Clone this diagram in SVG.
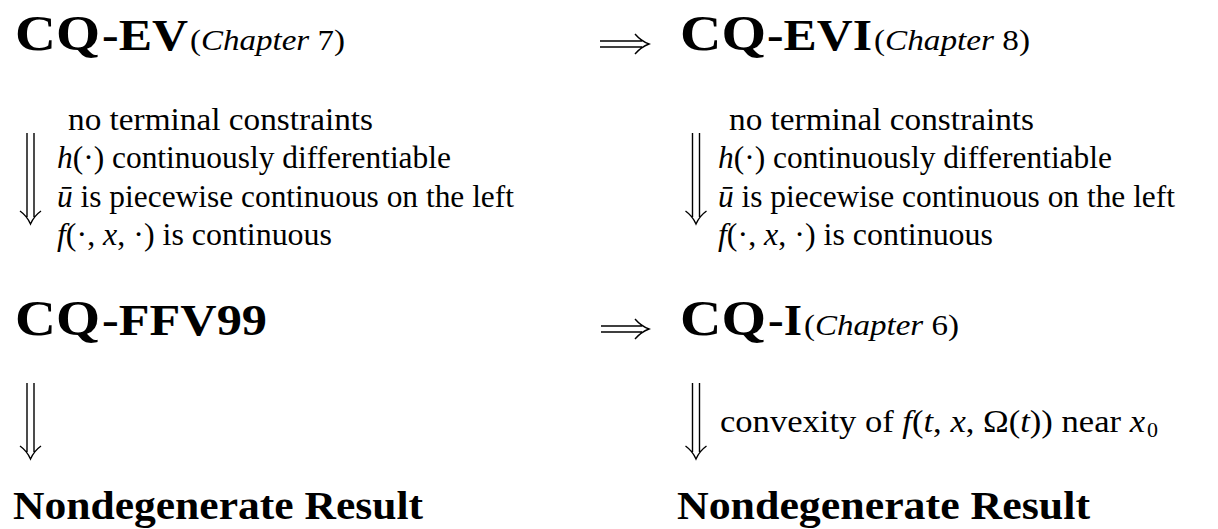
<svg xmlns="http://www.w3.org/2000/svg" width="1218" height="529" viewBox="0 0 1218 529">
<style>
text{font-family:"Liberation Serif","DejaVu Serif",serif;fill:#000}
.big{font-size:50px;font-weight:bold}
.mid{font-size:44px;font-weight:bold}
.ch{font-size:30px}
.it{font-style:italic}
.cond{font-size:31px}
.res{font-size:40px;font-weight:bold}
.arr{fill:none;stroke:#000;stroke-width:1.4}
</style>
<rect width="1218" height="529" fill="#fff"/>
<g id="cq-ev">
<text class="big" x="15" y="50" textLength="85" lengthAdjust="spacingAndGlyphs">CQ</text>
<text class="mid" x="102" y="50" textLength="86" lengthAdjust="spacingAndGlyphs">-EV</text>
<text class="ch" x="190" y="50" textLength="155" lengthAdjust="spacingAndGlyphs">(<tspan class="it">Chapter</tspan> 7)</text>
</g>
<g id="cq-evi">
<text class="big" x="680" y="50" textLength="86" lengthAdjust="spacingAndGlyphs">CQ</text>
<text class="mid" x="767" y="50" textLength="105" lengthAdjust="spacingAndGlyphs">-EVI</text>
<text class="ch" x="874" y="50" textLength="156" lengthAdjust="spacingAndGlyphs">(<tspan class="it">Chapter</tspan> 8)</text>
</g>
<g id="cq-ffv99">
<text class="big" x="15" y="335" textLength="85" lengthAdjust="spacingAndGlyphs">CQ</text>
<text class="mid" x="102" y="335" textLength="165" lengthAdjust="spacingAndGlyphs">-FFV99</text>
</g>
<g id="cq-i">
<text class="big" x="680" y="335" textLength="86" lengthAdjust="spacingAndGlyphs">CQ</text>
<text class="mid" x="768" y="335" textLength="34" lengthAdjust="spacingAndGlyphs">-I</text>
<text class="ch" x="804" y="335" textLength="155" lengthAdjust="spacingAndGlyphs">(<tspan class="it">Chapter</tspan> 6)</text>
</g>
<g id="result-left"><text class="res" x="13" y="519" textLength="410" lengthAdjust="spacingAndGlyphs">Nondegenerate Result</text></g>
<g id="result-right"><text class="res" x="677" y="519" textLength="413" lengthAdjust="spacingAndGlyphs">Nondegenerate Result</text></g>
<g id="connectors">
<path class="arr" d="M600,41H642M600,47H642M635,34Q641,41 649,44Q641,47 635,54"/>
<path class="arr" d="M601,326H642M601,332H642M635,319Q641,326 649,329Q641,332 635,339"/>
<path class="arr" d="M27,133V217M34,133V217M20,211Q27,216 30.5,224Q34,216 41,211"/>
<path class="arr" d="M692.5,133V217M699.5,133V217M685.5,211Q692.5,216 696,224Q699.5,216 706.5,211"/>
<path class="arr" d="M27,383V452M34,383V452M20,446Q27,451 30.5,459Q34,451 41,446"/>
<path class="arr" d="M692.5,383V452M699.5,383V452M685.5,446Q692.5,451 696,459Q699.5,451 706.5,446"/>
<g class="cond">
<text x="68" y="130" textLength="305" lengthAdjust="spacingAndGlyphs">no terminal constraints</text>
<text x="57" y="168" textLength="394" lengthAdjust="spacingAndGlyphs"><tspan class="it">h</tspan>(·) continuously differentiable</text>
<text x="57" y="207" textLength="457" lengthAdjust="spacingAndGlyphs"><tspan class="it">ū</tspan> is piecewise continuous on the left</text>
<text x="57" y="245" textLength="275" lengthAdjust="spacingAndGlyphs"><tspan class="it">f</tspan>(·, <tspan class="it">x</tspan>, ·) is continuous</text>
<text x="729" y="130" textLength="305" lengthAdjust="spacingAndGlyphs">no terminal constraints</text>
<text x="718" y="168" textLength="394" lengthAdjust="spacingAndGlyphs"><tspan class="it">h</tspan>(·) continuously differentiable</text>
<text x="718" y="207" textLength="457" lengthAdjust="spacingAndGlyphs"><tspan class="it">ū</tspan> is piecewise continuous on the left</text>
<text x="718" y="245" textLength="275" lengthAdjust="spacingAndGlyphs"><tspan class="it">f</tspan>(·, <tspan class="it">x</tspan>, ·) is continuous</text>
<text x="720" y="432" textLength="425" lengthAdjust="spacingAndGlyphs">convexity of <tspan class="it">f</tspan>(<tspan class="it">t</tspan>, <tspan class="it">x</tspan>, Ω(<tspan class="it">t</tspan>)) near <tspan class="it">x</tspan></text>
<text x="1147" y="437" font-size="22">0</text>
</g>
</g>
</svg>
